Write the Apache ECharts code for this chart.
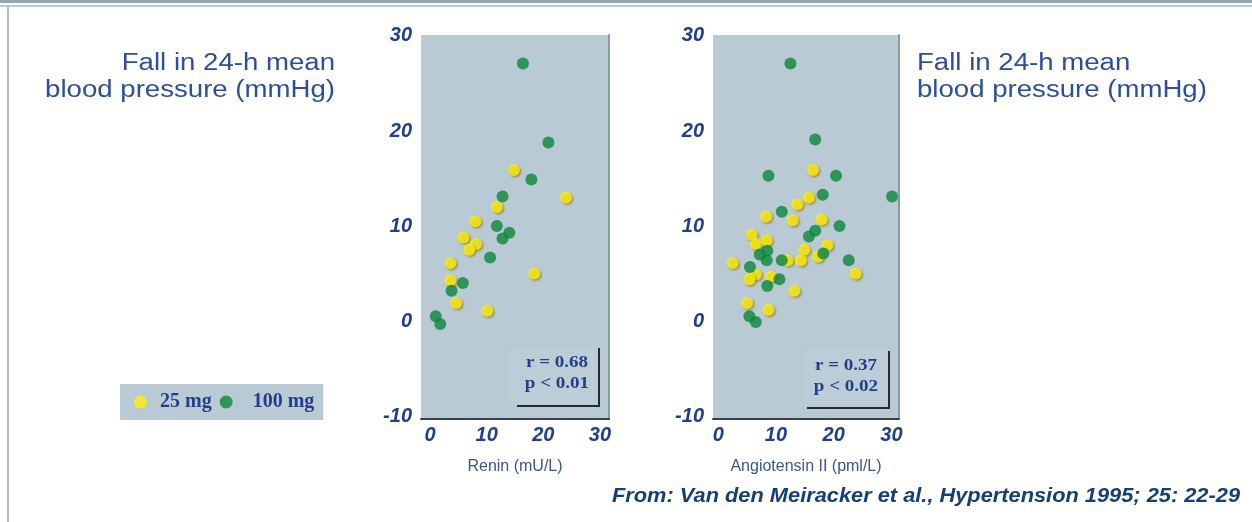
<!DOCTYPE html>
<html>
<head>
<meta charset="utf-8">
<script src="https://cdn.jsdelivr.net/npm/echarts@6/dist/echarts.min.js"></script>
<style>html,body{margin:0;padding:0;background:#fff;}#c{width:1252px;height:522px;}</style>
</head>
<body>
<div id="c"></div>
<script>
// ---- data ----
const xTicks = [0, 10, 20, 30];
const yTicks = [-10, 0, 10, 20, 30];
const seriesNames = ['25 mg', '100 mg'];
const reninAxisName = 'Renin (mU/L)';
const angAxisName = 'Angiotensin II (pml/L)';
const yAxisTitle = 'Fall in 24-h mean\nblood pressure (mmHg)';
const reninStats = 'r = 0.68\np < 0.01';
const angStats = 'r = 0.37\np < 0.02';
const sourceText = 'From: Van den Meiracker et al., Hypertension 1995; 25: 22-29';

const renin25 = [[14.8,15.9],[24.0,13.0],[11.8,12.0],[8.0,10.5],[5.9,8.8],[8.1,8.1],[6.9,7.5],[3.6,6.1],[3.6,4.3],[18.4,5.0],[4.6,1.9],[10.1,1.1]];
const renin100 = [[16.4,27.1],[20.9,18.8],[17.9,14.9],[12.8,13.1],[11.8,10.0],[14.0,9.3],[12.8,8.7],[10.6,6.7],[5.8,4.0],[3.8,3.2],[1.0,0.5],[1.8,-0.3]];
const ang25 = [[16.4,15.9],[15.7,13.0],[13.7,12.3],[8.3,11.0],[12.9,10.6],[17.9,10.7],[5.8,9.1],[6.5,8.1],[8.4,8.5],[18.9,8.0],[14.9,7.5],[17.3,6.8],[2.5,6.1],[12.0,6.4],[14.3,6.4],[6.5,4.9],[5.4,4.4],[9.1,4.7],[23.8,5.0],[13.2,3.2],[5.0,1.9],[8.7,1.2]];
const ang100 = [[12.5,27.1],[16.8,19.1],[8.7,15.3],[20.4,15.3],[18.1,13.3],[30.1,13.1],[11.0,11.5],[21.0,10.0],[16.8,9.5],[15.7,8.9],[18.2,7.1],[7.2,7.0],[8.5,7.4],[8.4,6.4],[11.0,6.4],[22.6,6.4],[5.5,5.7],[10.6,4.4],[8.5,3.7],[5.4,0.5],[6.5,-0.1]];

// ---- styles ----
const YELLOW = '#fbef0c', GREEN = '#0b8639', PANEL = '#b9cad5';
const tickLabel = {color:'#213f8f', fontFamily:'Liberation Sans', fontWeight:'bold', fontStyle:'italic', fontSize:20};
const axisNameStyle = {color:'#3b578c', fontFamily:'Liberation Sans', fontSize:16};
const yellowStyle = {color:YELLOW, shadowColor:'rgba(140,110,0,0.7)', shadowBlur:2, shadowOffsetX:1.5, shadowOffsetY:1.5};
const greenStyle = {color:GREEN};

function xAx(grid, min, max, name){
  return {gridIndex:grid, type:'value', min:min, max:max, name:name, nameLocation:'middle', nameGap:40,
    nameTextStyle:axisNameStyle,
    axisLine:{show:true, onZero:false, lineStyle:{color:'#38414c', width:2}},
    axisTick:{show:false}, splitLine:{show:false},
    axisLabel:Object.assign({customValues:xTicks, margin:6}, tickLabel)};
}
function yAx(grid){
  return {gridIndex:grid, type:'value', min:-10.3, max:30.1,
    axisLine:{show:false}, axisTick:{show:false}, splitLine:{show:false},
    axisLabel:Object.assign({customValues:yTicks, margin:9}, tickLabel)};
}
function yEdge(grid){
  return {gridIndex:grid, type:'value', min:-10.3, max:30.1, position:'right',
    axisLine:{show:true, lineStyle:{color:'#8a9aa6', width:2}}, axisTick:{show:false},
    axisLabel:{show:false}, splitLine:{show:false}};
}
function sc(name, xi, yi, data, style){
  return {name:name, type:'scatter', xAxisIndex:xi, yAxisIndex:yi, data:data, symbolSize:12, itemStyle:style, silent:true};
}
function txt(x, y, text, opts){
  return Object.assign({type:'text', x:x, y:y, silent:true, style:Object.assign({text:text}, opts.style)}, opts.el || {});
}

const chart = echarts.init(document.getElementById('c'));
chart.setOption({
  animation:false,
  backgroundColor:'#ffffff',
  grid:[
    {left:421, top:35, width:188, height:384, show:true, backgroundColor:PANEL, borderWidth:0},
    {left:713, top:35, width:186, height:384, show:true, backgroundColor:PANEL, borderWidth:0}
  ],
  xAxis:[xAx(0, -1.6, 31.6, reninAxisName), xAx(1, -0.9, 31.3, angAxisName)],
  yAxis:[yAx(0), yAx(1), yEdge(0), yEdge(1)],
  legend:{left:120, top:384, selectedMode:false, backgroundColor:PANEL,
    data:[{name:seriesNames[0]}, {name:seriesNames[1], textStyle:{padding:[0,0,0,15]}}],
    padding:[8,9,8,14], itemGap:8, itemWidth:13, itemHeight:13, icon:'circle',
    textStyle:{color:'#243f8a', fontFamily:'Liberation Serif', fontWeight:'bold', fontSize:20, padding:[0,0,0,8]}},
  series:[
    sc(seriesNames[0], 0, 0, renin25, yellowStyle),
    sc(seriesNames[1], 0, 0, renin100, greenStyle),
    sc(seriesNames[0], 1, 1, ang25, yellowStyle),
    sc(seriesNames[1], 1, 1, ang100, greenStyle)
  ],
  graphic:[
    {type:'rect', shape:{x:0, y:0, width:1252, height:3}, style:{fill:'#8fa8b8'}, silent:true},
    {type:'rect', shape:{x:0, y:5, width:1252, height:2}, style:{fill:'#b7c8d3'}, silent:true},
    {type:'rect', shape:{x:7, y:6, width:2, height:516}, style:{fill:'#aebfca'}, silent:true},
    txt(335, 50, yAxisTitle, {el:{scaleX:1.2}, style:{fill:'#2b4f9e', fontFamily:'Liberation Sans', fontSize:23, align:'right', verticalAlign:'top', lineHeight:27}}),
    txt(917, 50, yAxisTitle, {el:{scaleX:1.2}, style:{fill:'#2b4f9e', fontFamily:'Liberation Sans', fontSize:23, align:'left', verticalAlign:'top', lineHeight:27}}),
    {type:'rect', shape:{x:510, y:348, width:89, height:58}, style:{fill:'rgba(255,255,255,0.07)'}, silent:true},
    {type:'polyline', shape:{points:[[517,406],[599,406],[599,348]]}, style:{stroke:'#252a35', lineWidth:2, fill:null}, silent:true},
    {type:'rect', shape:{x:805, y:350, width:84, height:58}, style:{fill:'rgba(255,255,255,0.07)'}, silent:true},
    {type:'polyline', shape:{points:[[807,408],[889,408],[889,351]]}, style:{stroke:'#252a35', lineWidth:2, fill:null}, silent:true},
    txt(557, 352, reninStats, {el:{scaleX:1.12}, style:{fill:'#243f8a', fontFamily:'Liberation Serif', fontWeight:'bold', fontSize:17, align:'center', verticalAlign:'top', lineHeight:21}}),
    txt(846, 355, angStats, {el:{scaleX:1.12}, style:{fill:'#243f8a', fontFamily:'Liberation Serif', fontWeight:'bold', fontSize:17, align:'center', verticalAlign:'top', lineHeight:21}}),
    txt(1240, 496, sourceText, {el:{scaleX:1.09}, style:{fill:'#14407a', fontFamily:'Liberation Sans', fontWeight:'bold', fontStyle:'italic', fontSize:20, align:'right', verticalAlign:'middle'}})
  ]
});
</script>
</body>
</html>
